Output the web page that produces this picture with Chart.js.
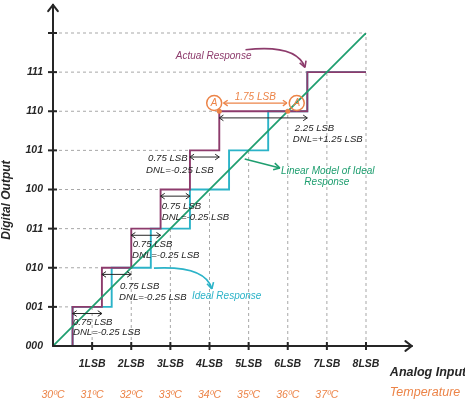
<!DOCTYPE html>
<html><head><meta charset="utf-8">
<script src="https://cdn.jsdelivr.net/npm/chart.js@4"></script>
<style>html,body{margin:0;padding:0;background:#fff}#wrap{width:465px;height:400px}</style>
</head><body><div id="wrap"><canvas id="c" width="465" height="400"></canvas></div>
<script>
// ---- data ----
const lsbValues = [0,1,2,3,4,5,6,7,8];
const lsbLabels = ['', '1LSB','2LSB','3LSB','4LSB','5LSB','6LSB','7LSB','8LSB'];
const codeLabels = ['000','001','010','011','100','101','110','111',''];
const tempLabels = ['30ºC','31ºC','32ºC','33ºC','34ºC','35ºC','36ºC','37ºC',''];
const actualInput = [0,0.5,1.25,2,2.75,3.5,4.25,6.5,8];
const actualCode  = [0,1,2,3,4,5,6,7,7];
const idealInput  = [0,0.5,1.5,2.5,3.5,4.5,5.5,6.5,8];
const idealCode   = [0,1,2,3,4,5,6,7,7];
const linearInput = [0,8];
const linearCode  = [0,8];
const codeWidthText = ['0.75 LSB','0.75 LSB','0.75 LSB','0.75 LSB','0.75 LSB','2.25 LSB'];
const dnlText = ['DNL=-0.25 LSB','DNL=-0.25 LSB','DNL=-0.25 LSB','DNL=-0.25 LSB','DNL=-0.25 LSB','DNL=+1.25 LSB'];
const missingSpanText = '1.75 LSB';

// ---- layout of annotations (data units) ----
const widthLabelPos = [[0.51,0.61,0.51,0.36],[1.71,1.53,1.69,1.25],[2.04,2.61,2.02,2.32],[2.78,3.58,2.78,3.30],[2.43,4.80,2.38,4.49],[6.18,5.57,6.13,5.29]];
const C = {purple:'#8d3b6c', cyan:'#2bb3c8', green:'#1e9e6f', orange:'#ec8448', ink:'#262626', grid:'#a8a8a8'};
const FF = '"Liberation Sans", Arial, sans-serif';
Chart.defaults.font.family = FF;

const pts = (xs, ys) => xs.map((x,i)=>({x, y: ys[i]}));
// value of a "step-before" staircase at input v (lowest level at a jump)
const stairAt = (xs, ys, v) => { let lv = ys[0]; for (let i=1;i<xs.length;i++){ if (xs[i] < v) lv = ys[i]; } return lv; };

const dropGrid = {
  id:'dropGrid',
  beforeDatasetsDraw(chart){
    const ctx = chart.ctx, xs = chart.scales.x, ys = chart.scales.y;
    const X = v => xs.getPixelForValue(v), Y = v => ys.getPixelForValue(v);
    ctx.save();
    ctx.strokeStyle = C.grid; ctx.lineWidth = 1; ctx.setLineDash([3,3]);
    const top = lsbValues[lsbValues.length-1];
    for (const v of lsbValues) {
      if (v === 0) continue;
      // horizontal: from the Y axis to where the actual response reaches this code
      const idx = actualCode.indexOf(v);
      const xr = v === top ? top : actualInput[idx];
      ctx.beginPath(); ctx.moveTo(X(0), Y(v)); ctx.lineTo(X(xr), Y(v)); ctx.stroke();
      // vertical: from the X axis up to the ideal response
      const yt = v === top ? top : stairAt(idealInput, idealCode, v);
      ctx.beginPath(); ctx.moveTo(X(v), Y(0)); ctx.lineTo(X(v), Y(yt)); ctx.stroke();
    }
    ctx.restore();
  }
};

const decor = {
  id:'decor',
  afterDatasetsDraw(chart){
    const ctx = chart.ctx, xs = chart.scales.x, ys = chart.scales.y;
    const X = v => xs.getPixelForValue(v), Y = v => ys.getPixelForValue(v);
    ctx.save();
    const seg = (x1,y1,x2,y2) => {ctx.beginPath();ctx.moveTo(x1,y1);ctx.lineTo(x2,y2);ctx.stroke();};
    const head = (x,y,ang,len,spread) => {
      seg(x,y,x-len*Math.cos(ang-spread),y-len*Math.sin(ang-spread));
      seg(x,y,x-len*Math.cos(ang+spread),y-len*Math.sin(ang+spread));
    };
    const dbl = (a,b,y,col,lw) => {
      ctx.strokeStyle=col; ctx.lineWidth=lw;
      const x1=X(a), x2=X(b), yy=Y(y);
      seg(x1,yy,x2,yy); head(x1,yy,Math.PI,5,0.6); head(x2,yy,0,5,0.6);
    };
    const text = (t,x,y,font,col,align) => {
      ctx.font=font; ctx.fillStyle=col; ctx.textAlign=align||'left'; ctx.textBaseline='middle';
      ctx.fillText(t,X(x),Y(y));
    };
    // axes with arrows
    ctx.strokeStyle=C.ink; ctx.lineWidth=2; ctx.lineCap='round';
    const x0=X(0), y0=Y(0), yTop=Y(8.72), xEnd=X(9.17);
    seg(x0,y0,x0,yTop); head(x0,yTop,-Math.PI/2,8,0.65);
    seg(x0,y0,xEnd,y0); head(xEnd,y0,0,8,0.65);
    ctx.lineCap='butt';
    for (const v of lsbValues) { if (v===0) continue;
      seg(X(v),y0-4,X(v),y0+4); seg(x0-5,Y(v),x0+4,Y(v)); }
    // code width arrows + labels
    const f95 = 'italic 9.6px '+FF;
    for (let k=1;k<=6;k++){
      dbl(actualInput[k],actualInput[k+1],k-0.17,C.ink,1);
      const p = widthLabelPos[k-1];
      text(codeWidthText[k-1],p[0],p[1],f95,C.ink);
      text(dnlText[k-1],p[2],p[3],f95,C.ink);
    }
    // orange missing-code markers
    ctx.fillStyle=C.orange;
    for (const v of [actualInput[6],6.0]){ctx.beginPath();ctx.arc(X(v),Y(6),2.5,0,Math.PI*2);ctx.fill();}
    ctx.strokeStyle=C.orange; ctx.lineWidth=1.5;
    for (const v of [4.12,6.23]){ctx.beginPath();ctx.arc(X(v),Y(6.21),7.5,0,Math.PI*2);ctx.stroke();
      text('A',v,6.21,'italic 10px '+FF,C.orange,'center');}
    dbl(4.36,5.98,6.21,C.orange,1.3);
    text(missingSpanText,5.17,6.37,'italic 10px '+FF,C.orange,'center');
    // curved arrows
    const curve = (s,c,e,col) => {
      ctx.strokeStyle=col; ctx.lineWidth=1.6;
      ctx.beginPath(); ctx.moveTo(X(s[0]),Y(s[1])); ctx.quadraticCurveTo(X(c[0]),Y(c[1]),X(e[0]),Y(e[1])); ctx.stroke();
      head(X(e[0]),Y(e[1]),Math.atan2(Y(e[1])-Y(c[1]),X(e[0])-X(c[0])),7,0.5);
    };
    curve([4.92,7.57],[6.22,7.72],[6.44,7.12],C.purple);
    curve([2.58,1.99],[3.9,2.06],[4.06,1.46],C.cyan);
    ctx.strokeStyle=C.green; ctx.lineWidth=1.6;
    const gx1=X(4.9),gy1=Y(4.78),gx2=X(5.8),gy2=Y(4.55);
    seg(gx1,gy1,gx2,gy2); head(gx2,gy2,Math.atan2(gy2-gy1,gx2-gx1),7,0.5);
    // series notes
    const f10='italic 10px '+FF;
    text('Actual Response',3.14,7.41,f10,C.purple);
    text('Linear Model of Ideal',5.83,4.47,f10,C.green);
    text('Response',7.0,4.19,f10,C.green,'center');
    text('Ideal Response',3.55,1.28,f10,C.cyan);
    // axis titles
    text('Analog Input',8.61,-0.69,'italic bold 12.5px '+FF,C.ink);
    text('Temperature',8.61,-1.20,'italic 12.5px '+FF,C.orange);
    ctx.save(); ctx.translate(7,Y(3.73)); ctx.rotate(-Math.PI/2);
    ctx.font='italic bold 12px '+FF; ctx.fillStyle=C.ink; ctx.textAlign='center'; ctx.textBaseline='middle';
    ctx.fillText('Digital Output',0,0); ctx.restore();
    ctx.restore();
  }
};

new Chart(document.getElementById('c'), {
  type:'scatter',
  data:{datasets:[
    {label:'Linear Model of Ideal Response', data:pts(linearInput,linearCode), showLine:true, borderColor:C.green, borderWidth:1.8, pointRadius:0, order:0},
    {label:'Actual Response', data:pts(actualInput,actualCode), showLine:true, stepped:'before', borderColor:C.purple, borderWidth:1.9, pointRadius:0, order:1},
    {label:'Ideal Response', data:pts(idealInput,idealCode), showLine:true, stepped:'before', borderColor:C.cyan, borderWidth:1.9, pointRadius:0, order:2}
  ]},
  options:{
    responsive:false, animation:false, events:[],
    layout:{padding:{top:33,right:99,left:0,bottom:0}},
    plugins:{legend:{display:false}, tooltip:{enabled:false}},
    scales:{
      x:{type:'linear', position:'bottom', min:0, max:8, weight:0,
        afterFit(s){s.height=30;},
        ticks:{stepSize:1, autoSkip:false, maxRotation:0, padding:12, color:C.ink,
          font:{size:10.5, style:'italic', weight:'bold'}, callback:v=>lsbLabels[v] ?? ''},
        grid:{drawOnChartArea:false, drawTicks:false},
        border:{display:false}},
      x2:{type:'linear', position:'bottom', min:0, max:8, weight:1,
        afterFit(s){s.height=24;},
        ticks:{stepSize:1, autoSkip:false, maxRotation:0, padding:13, color:C.orange,
          font:{size:10.5, style:'italic'}, callback:v=>tempLabels[v] ?? ''},
        grid:{display:false, drawTicks:false}, border:{display:false}},
      y:{type:'linear', min:0, max:8,
        afterFit(s){s.width=53;},
        ticks:{stepSize:1, autoSkip:false, padding:10, color:C.ink,
          font:{size:10.5, style:'italic', weight:'bold'}, callback:v=>codeLabels[v] ?? ''},
        grid:{drawOnChartArea:false, drawTicks:false},
        border:{display:false}}
    }
  },
  plugins:[dropGrid, decor]
});
</script></body></html>
